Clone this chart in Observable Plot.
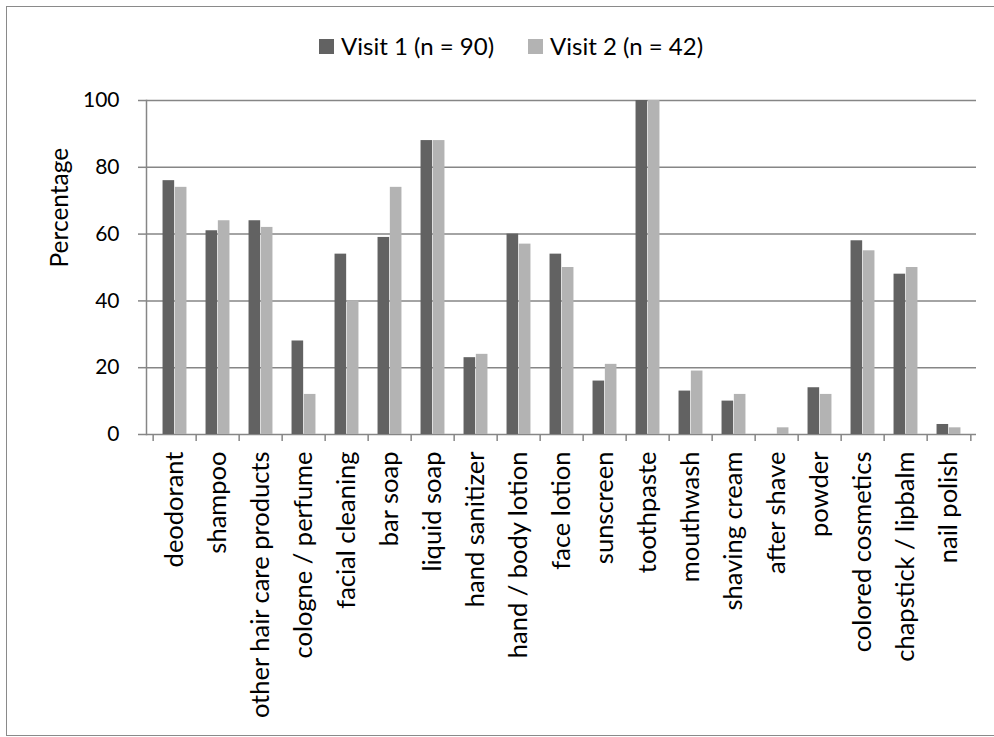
<!DOCTYPE html>
<html><head><meta charset="utf-8">
<script src="https://cdn.jsdelivr.net/npm/d3@7"></script>
<script src="https://cdn.jsdelivr.net/npm/@observablehq/plot@0.6"></script>
<style>
body{margin:0;background:#fff;font-family:Lato,"Open Sans",sans-serif}
#chart{position:relative;width:994px;height:737px;overflow:hidden;background:#fff}
#chart svg{position:absolute;left:0;top:0}
#border{position:absolute;left:6px;top:6px;width:1000px;height:730px;border:1.5px solid #8a8a8a;box-sizing:border-box;z-index:2;pointer-events:none}
.leg{position:absolute;top:34px;height:24px;display:flex;align-items:center;font-size:24px;line-height:24px;color:#000;z-index:3;white-space:nowrap}
.sw{display:inline-block;width:15px;height:15px;margin-right:7px}
</style>
</head><body>
<div id="chart">
  <div id="border"></div>
</div>
<script>
const categories = ["deodorant","shampoo","other hair care products","cologne / perfume","facial cleaning","bar soap","liquid soap","hand sanitizer","hand / body lotion","face lotion","sunscreen","toothpaste","mouthwash","shaving cream","after shave","powder","colored cosmetics","chapstick / lipbalm","nail polish"];
const visit1 = [76,61,64,28,54,59,88,23,60,54,16,100,13,10,0,14,58,48,3];
const visit2 = [74,64,62,12,40,74,88,24,57,50,21,100,19,12,2,12,55,50,2];
const seriesNames = ["Visit 1 (n = 90)","Visit 2 (n = 42)"];
const seriesColors = ["#626262","#b3b3b3"];
const yTicks = [0,20,40,60,80,100];

const rows = categories.map((c,i)=>({category:c, v1:visit1[i], v2:visit2[i]}));

const W = 994, H = 737, mL = 146, mR = 18, mT = 100, mB = 303;
const bw = (W - mL - mR) / categories.length;
const barW = bw * 0.2816;
const grid = "#868686";

const chart = Plot.plot({
  width: W, height: H,
  marginLeft: mL, marginRight: mR, marginTop: mT, marginBottom: mB,
  style: {fontFamily: "Lato, 'Open Sans', sans-serif", background: "transparent", color: "#000"},
  x: {domain: categories, padding: 0, axis: null},
  y: {domain: [0,100], axis: null},
  marks: [
    Plot.ruleY(yTicks, {stroke: grid, strokeWidth: 1.5}),
    Plot.frame({anchor: "left", stroke: grid, strokeWidth: 1.5}),
    Plot.barY(rows, {x: "category", y: "v1", fill: seriesColors[0], insetLeft: bw/2 - barW, insetRight: bw/2}),
    Plot.barY(rows, {x: "category", y: "v2", fill: seriesColors[1], insetLeft: bw/2, insetRight: bw/2 - barW}),
    Plot.axisY({ticks: yTicks, text: null, tickSize: 8, stroke: grid, strokeWidth: 1.5, label: null}),
    Plot.axisY({ticks: yTicks, tickSize: 0, tickPadding: 27, fontSize: 21, fill: "#000", label: null}),
    Plot.axisX({text: null, tickSize: 7, stroke: grid, strokeWidth: 1.5, dx: -bw/2, label: null}),
    Plot.axisX([categories[categories.length-1]], {text: null, tickSize: 7, stroke: grid, strokeWidth: 1.5, dx: bw/2, label: null}),
    Plot.axisX({tickSize: 0, tickPadding: 17, tickRotate: -90, fontSize: 25.5, fill: "#000", label: null}),
    Plot.text(["Percentage"], {frameAnchor: "left", rotate: -90, dx: -86, fontSize: 24.5, fill: "#000"})
  ]
});
const host = document.getElementById("chart");
host.appendChild(chart);

// legend
const legLefts = [319, 528];
seriesNames.forEach((n,i)=>{
  const d = document.createElement("div");
  d.className = "leg";
  d.style.left = legLefts[i] + "px";
  d.innerHTML = `<span class="sw" style="background:${seriesColors[i]}"></span><span>${n}</span>`;
  host.appendChild(d);
});
</script>
</body></html>
